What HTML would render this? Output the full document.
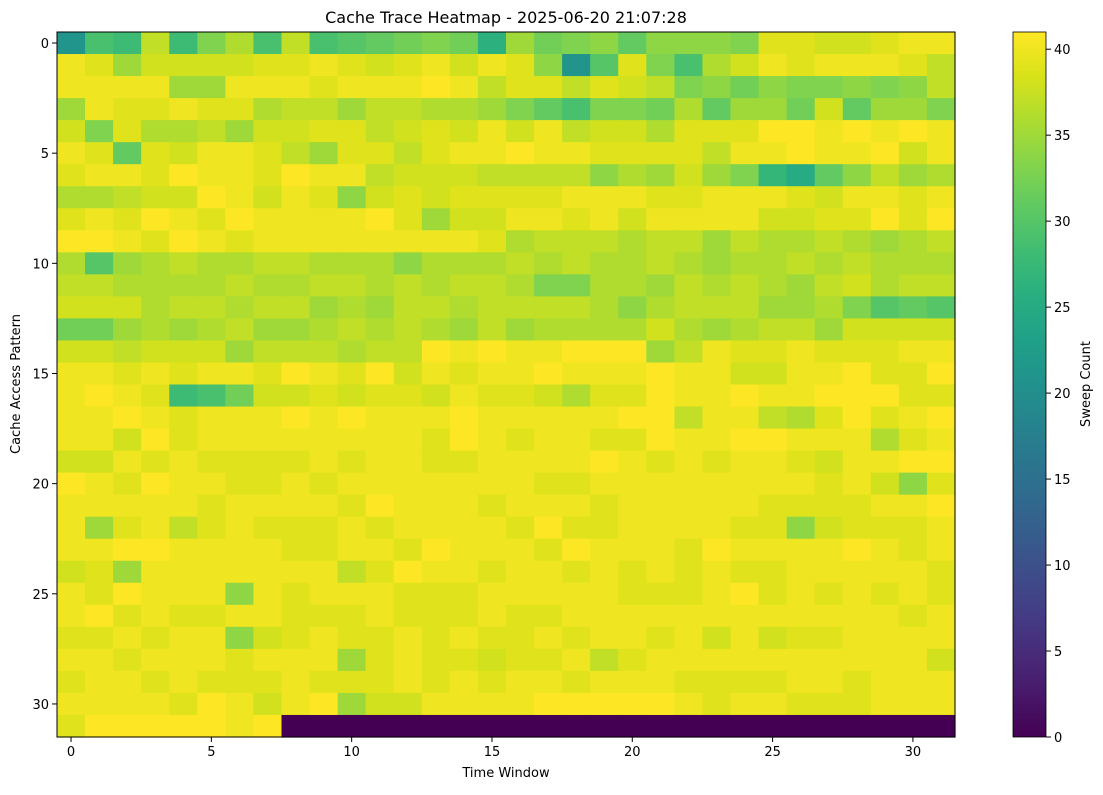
<!DOCTYPE html>
<html><head><meta charset="utf-8"><style>
body{margin:0;background:#fff;}
svg text{font-family:"DejaVu Sans","Liberation Sans",sans-serif;fill:#000;}
</style></head><body>
<svg id="chart" width="1103" height="790" xmlns="http://www.w3.org/2000/svg">
<text x="506" y="23" font-size="16" text-anchor="middle">Cache Trace Heatmap - 2025-06-20 21:07:28</text>
<g id="cells"></g>
<g id="axes"></g>
<text x="506" y="777" font-size="13" text-anchor="middle">Time Window</text>
<text x="20" y="384" font-size="13" text-anchor="middle" transform="rotate(-90 20 384)">Cache Access Pattern</text>
<defs><linearGradient id="cbgrad" x1="0" y1="1" x2="0" y2="0"></linearGradient></defs>
<rect x="1013" y="32" width="33" height="705" fill="url(#cbgrad)" stroke="#000" stroke-width="0.8"/>
<g id="cbaxis"></g>
<text x="1090" y="384" font-size="13" text-anchor="middle" transform="rotate(-90 1090 384)">Sweep Count</text>
</svg>
<script>
const rows = [
[21,29,28,37,28,33,36,29,37,29,30,31,32,33,32,26,35,32,33,34,31,34,34,34,33,39,39,38,38,39,40,40],
[40,39,35,38,38,38,38,39,39,40,39,38,39,40,38,40,39,34,21,30,39,33,29,36,38,40,39,40,40,40,39,37],
[40,40,40,40,35,35,40,40,40,39,40,40,40,41,40,37,39,39,37,39,38,37,33,34,32,34,33,33,34,33,34,37],
[35,40,39,39,40,39,39,36,37,37,35,37,37,36,36,35,33,31,29,33,33,32,36,31,35,35,32,38,31,35,35,33],
[38,33,39,36,36,37,35,38,38,39,39,37,38,39,38,40,38,40,37,38,38,36,39,39,39,41,41,40,41,40,41,40],
[40,39,31,39,38,40,40,39,37,35,39,39,37,39,40,40,41,40,40,39,39,39,39,37,40,40,41,40,40,41,38,40],
[39,40,40,39,41,40,40,39,41,40,40,37,38,38,38,37,37,37,37,34,36,35,38,35,33,27,25,31,34,37,35,36],
[36,36,37,38,38,41,40,38,40,39,34,38,39,38,39,39,39,39,40,40,40,39,39,40,40,40,39,38,40,40,39,40],
[39,40,39,41,40,39,41,40,40,40,40,41,39,35,38,38,40,40,39,40,38,40,40,40,40,38,38,39,39,41,39,41],
[41,41,40,39,41,40,39,40,40,40,40,40,40,40,40,39,36,37,37,37,36,37,37,35,37,36,36,37,36,35,36,37],
[36,30,35,36,37,36,36,37,37,36,36,36,34,36,36,36,37,36,37,36,36,37,36,35,36,36,37,36,37,36,36,36],
[37,37,36,36,36,36,37,36,36,37,37,36,37,36,37,37,36,33,33,36,36,35,37,36,37,36,35,37,38,36,37,37],
[38,38,38,36,37,37,36,37,37,35,36,35,37,37,36,37,37,37,37,36,34,36,37,37,37,35,35,36,33,30,31,30],
[32,32,35,36,35,36,37,35,35,36,37,36,37,36,35,37,35,36,36,36,36,38,36,35,36,37,37,35,38,38,38,38],
[38,38,37,38,38,38,35,37,37,37,36,37,37,41,40,41,40,40,41,41,41,35,37,40,39,39,40,39,39,39,40,40],
[40,40,39,40,39,40,40,39,41,40,39,41,38,40,39,40,40,41,40,40,40,41,40,40,38,38,40,40,41,39,39,41],
[40,41,40,39,28,29,32,38,38,39,38,39,39,38,40,39,39,38,36,39,39,41,40,40,41,40,40,41,41,41,39,39],
[40,40,41,40,39,40,40,40,41,40,41,40,40,40,41,40,40,40,40,40,41,41,37,40,40,37,36,39,41,39,40,41],
[40,40,38,41,39,40,40,40,40,40,40,40,40,39,41,40,39,40,40,39,39,41,40,40,41,41,40,40,40,36,39,40],
[38,38,40,39,40,39,39,39,39,40,39,40,40,39,39,40,40,40,40,41,40,39,40,39,40,40,39,38,40,40,41,41],
[41,40,39,41,40,40,39,39,40,39,40,40,40,40,40,40,40,39,39,40,40,40,40,40,40,40,40,39,40,38,34,39],
[40,40,40,40,40,39,40,40,40,40,39,41,40,40,40,39,40,40,40,39,40,40,40,40,40,39,39,39,39,40,40,41],
[40,35,39,40,37,39,40,39,39,39,40,39,40,40,40,40,39,41,39,39,40,40,40,40,39,39,34,38,39,39,39,40],
[40,40,41,41,40,40,40,40,39,39,40,40,39,41,40,40,40,39,41,40,40,40,39,41,40,40,40,40,41,40,39,40],
[38,39,35,40,40,40,40,40,40,40,37,39,41,40,40,39,40,40,39,40,39,40,39,40,39,39,40,40,40,40,40,39],
[40,39,41,40,40,40,34,40,39,40,40,40,39,39,39,40,40,40,40,40,39,39,39,40,41,39,40,39,40,39,40,39],
[40,41,39,40,39,39,40,40,39,39,39,40,39,39,39,40,39,39,40,40,40,40,40,40,40,40,40,40,40,40,39,40],
[39,39,40,39,40,40,34,38,39,40,39,39,40,39,40,39,39,40,39,40,40,39,40,38,40,38,39,39,40,40,40,40],
[40,40,39,40,40,40,39,40,40,40,35,39,40,39,39,38,39,39,40,37,39,40,40,40,40,40,40,40,40,40,40,38],
[39,40,40,39,40,39,39,39,40,39,39,39,40,39,40,39,40,40,39,40,40,40,39,39,39,39,40,40,39,40,40,40],
[40,40,40,40,39,41,40,38,40,41,35,38,38,40,40,40,40,41,41,41,41,41,40,39,40,40,39,39,39,40,40,40],
[39,41,41,41,41,41,40,41,0,0,0,0,0,0,0,0,0,0,0,0,0,0,0,0,0,0,0,0,0,0,0,0]
];
const xTicks = [0,5,10,15,20,25,30];
const yTicks = [0,5,10,15,20,25,30];
const cbTicks = [0,5,10,15,20,25,30,35,40];
const vmin = 0, vmax = 41;

const VIR = ["#440154","#48186a","#472d7b","#424086","#3b528b","#33638d","#2c728e","#26828e","#21918c","#1fa088","#28ae80","#3fbc73","#5ec962","#84d44b","#addc30","#d8e219","#fde725"];
function hx(h){return [1,3,5].map(i=>parseInt(h.substr(i,2),16));}
function viridis(t){
  t=Math.max(0,Math.min(1,t));
  const f=t*(VIR.length-1), i=Math.min(Math.floor(f),VIR.length-2), r=f-i;
  const a=hx(VIR[i]), b=hx(VIR[i+1]);
  return "rgb("+a.map((v,k)=>Math.round(v+(b[k]-v)*r)).join(",")+")";
}
const NS="http://www.w3.org/2000/svg";
const X0=57, X1=955, Y0=32, Y1=737;
const nC=rows[0].length, nR=rows.length;
const cw=(X1-X0)/nC, ch=(Y1-Y0)/nR;
const xs=c=>X0+c*cw, ys=r=>Y0+r*ch;
const cbY=v=>737-(v-vmin)/(vmax-vmin)*705;
function mk(tag,attrs,parent){const e=document.createElementNS(NS,tag);for(const k in attrs)e.setAttribute(k,attrs[k]);parent.appendChild(e);return e;}

const cells=document.getElementById('cells');
rows.forEach((row,r)=>row.forEach((v,c)=>{
  const e=mk('rect',{x:xs(c),y:ys(r),width:cw+0.6,height:ch+0.6,fill:viridis((v-vmin)/(vmax-vmin))},cells);
  
  
}));
const axes=document.getElementById('axes');
const fr=mk('rect',{x:X0,y:Y0,width:X1-X0,height:Y1-Y0,fill:'none',stroke:'#000','stroke-width':1},axes);


xTicks.forEach(t=>{
  const x=xs(t+0.5);
  mk('line',{x1:x,x2:x,y1:Y1,y2:Y1+5,stroke:'#000'},axes);
  const tx=mk('text',{x:x,y:Y1+19,'font-size':13,'text-anchor':'middle'},axes);
  tx.textContent=t;
  
  
});
yTicks.forEach(t=>{
  const y=ys(t+0.5);
  mk('line',{x1:X0-5,x2:X0,y1:y,y2:y,stroke:'#000'},axes);
  const tx=mk('text',{x:X0-8,y:y+5,'font-size':13,'text-anchor':'end'},axes);
  tx.textContent=t;
  
  
});
const grad=document.getElementById('cbgrad');
for(let i=0;i<=32;i++){mk('stop',{offset:(i/32),'stop-color':viridis(i/32)},grad);}
const cba=document.getElementById('cbaxis');
cbTicks.forEach(t=>{
  const y=cbY(t);
  mk('line',{x1:1046,x2:1051,y1:y,y2:y,stroke:'#000'},cba);
  const tx=mk('text',{x:1054,y:y+5,'font-size':13},cba);
  tx.textContent=t;
  
  
});
</script>
</body></html>
